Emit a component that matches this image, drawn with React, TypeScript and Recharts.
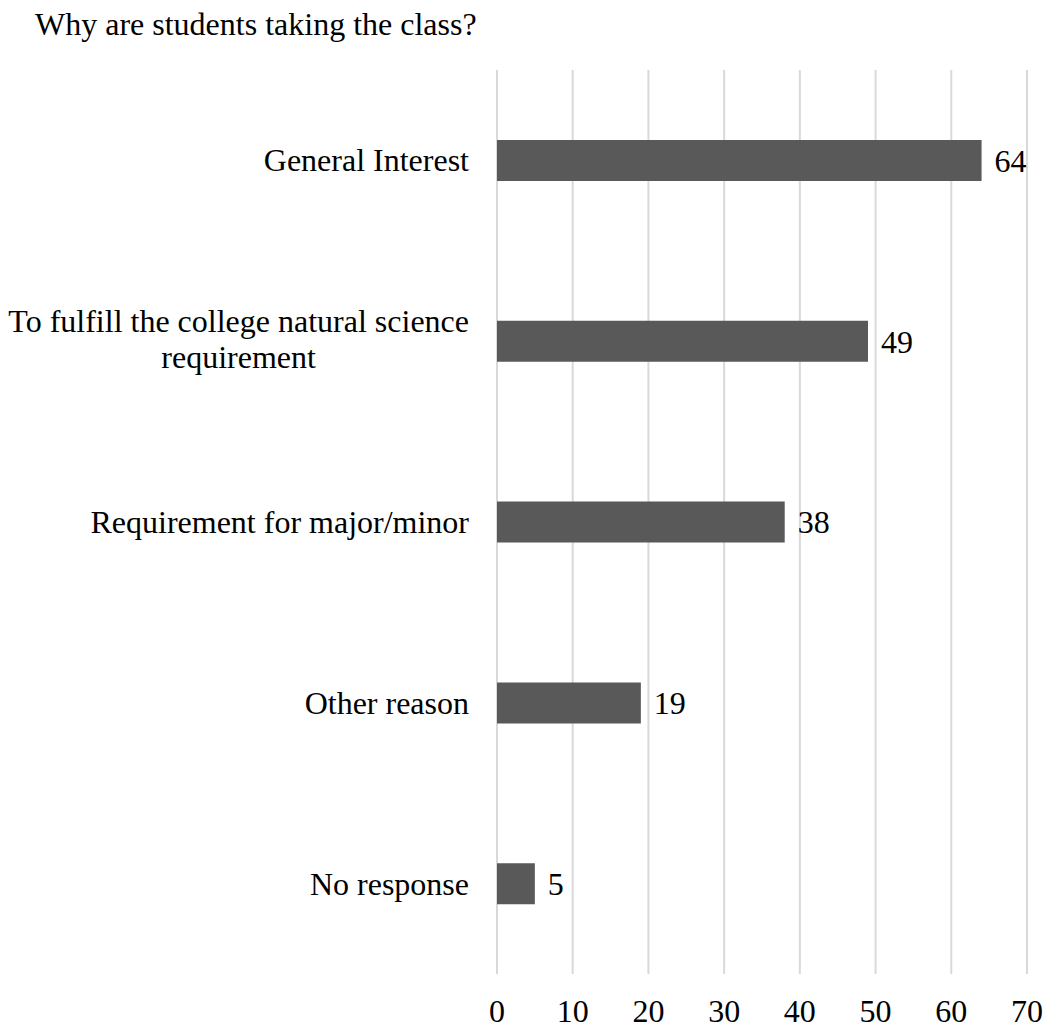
import React from 'react';
import { BarChart, Bar, XAxis, YAxis, CartesianGrid, LabelList } from 'recharts';

// ── Data ─────────────────────────────────────────────────────────────

const categories = [
  'General Interest',
  'To fulfill the college natural science requirement',
  'Requirement for major/minor',
  'Other reason',
  'No response',
];
const counts = [64, 49, 38, 19, 5];
const xTicks = [0, 10, 20, 30, 40, 50, 60, 70];

const data = categories.map((name, i) => ({ name, value: counts[i] }));

const FONT = '"Liberation Serif", "Times New Roman", serif';
const FONT_SIZE = 32;
const LINE_H = 36;
const MAX_CHARS = 40;

// ── Helpers ──────────────────────────────────────────────────────────

function wrap(label: string): string[] {
  const words = label.split(' ');
  const lines: string[] = [];
  let cur = '';
  for (const w of words) {
    const next = cur ? cur + ' ' + w : w;
    if (next.length > MAX_CHARS && cur) {
      lines.push(cur);
      cur = w;
    } else {
      cur = next;
    }
  }
  if (cur) lines.push(cur);
  return lines;
}

let ctx: CanvasRenderingContext2D | null = null;
function textWidth(s: string): number {
  if (!ctx) {
    ctx = document.createElement('canvas').getContext('2d');
  }
  if (!ctx) return s.length * FONT_SIZE * 0.45;
  ctx.font = `${FONT_SIZE}px ${FONT}`;
  return ctx.measureText(s).width;
}

function CategoryTick(props: any) {
  const { x, y, payload } = props;
  const lines = wrap(String(payload.value));
  const right = x - 20;
  if (lines.length === 1) {
    return (
      <text x={right} y={y + 11} textAnchor="end" fontFamily={FONT} fontSize={FONT_SIZE} fill="#000">
        {lines[0]}
      </text>
    );
  }
  const widest = Math.max(...lines.map(textWidth));
  const cx = right - widest / 2;
  return (
    <text textAnchor="middle" fontFamily={FONT} fontSize={FONT_SIZE} fill="#000">
      {lines.map((ln, i) => (
        <tspan key={i} x={cx} y={y + 9 + (i - (lines.length - 1) / 2) * LINE_H}>
          {ln}
        </tspan>
      ))}
    </text>
  );
}

function ValueTick(props: any) {
  const { x, y, payload } = props;
  return (
    <text x={x} y={y + 40} textAnchor="middle" fontFamily={FONT} fontSize={FONT_SIZE} fill="#000">
      {payload.value}
    </text>
  );
}

// ── Chart ────────────────────────────────────────────────────────────

export default function App() {
  return (
    <div style={{ position: 'absolute', left: 0, top: 0, width: 1048, height: 1029, background: '#fff' }}>
      <div
        style={{
          position: 'absolute',
          left: 35,
          top: 8,
          fontFamily: FONT,
          fontSize: FONT_SIZE,
          lineHeight: '32px',
          color: '#000',
          whiteSpace: 'nowrap',
        }}
      >
        Why are students taking the class?
      </div>
      <BarChart
        width={1048}
        height={1029}
        data={data}
        layout="vertical"
        margin={{ top: 70, right: 21, bottom: 0, left: 0 }}
        barCategoryGap={0}
      >
        <CartesianGrid vertical horizontal={false} stroke="#d9d9d9" strokeWidth={2} verticalValues={xTicks} />
        <XAxis
          type="number"
          domain={[0, 70]}
          ticks={xTicks}
          axisLine={false}
          tickLine={false}
          height={55}
          tick={<ValueTick />}
          interval={0}
        />
        <YAxis
          type="category"
          dataKey="name"
          width={497}
          axisLine={false}
          tickLine={false}
          tick={<CategoryTick />}
          interval={0}
        />
        <Bar dataKey="value" fill="#595959" barSize={41} isAnimationActive={false}>
          <LabelList
            dataKey="value"
            position="right"
            offset={13}
            fontFamily={FONT}
            fontSize={FONT_SIZE}
            fill="#000"
          />
        </Bar>
      </BarChart>
    </div>
  );
}
